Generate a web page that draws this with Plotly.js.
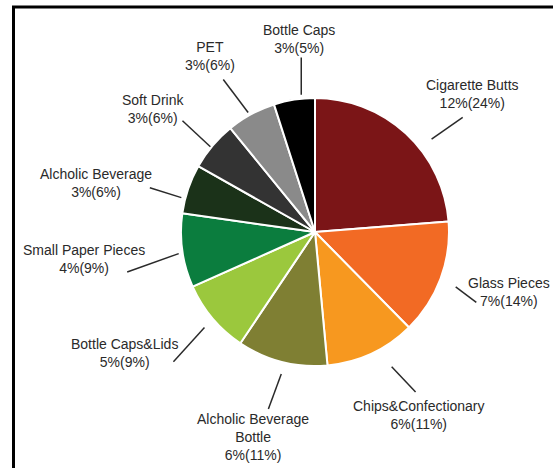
<!DOCTYPE html>
<html><head><meta charset="utf-8">
<script src="https://cdn.plot.ly/plotly-3.0.1.min.js"></script>
<style>html,body{margin:0;padding:0;background:#fff}#chart{width:553px;height:468px}</style>
</head><body><div id="chart"></div>
<script>
// ---- data ----
const categories = ['Cigarette Butts', 'Glass Pieces', 'Chips&Confectionary', 'Alcholic Beverage<br>Bottle',
  'Bottle Caps&Lids', 'Small Paper Pieces', 'Alcholic Beverage', 'Soft Drink', 'PET', 'Bottle Caps'];
const firstShare = [12, 7, 6, 6, 5, 4, 3, 3, 3, 3];       // first percentage in label
const secondShare = [24, 14, 11, 11, 9, 9, 6, 6, 6, 5];   // percentage in brackets (slice size)
const sliceColors = ['#7b1517', '#f26a24', '#f7981f', '#7f7f33', '#9bc83d', '#0b7d3e', '#1b3219', '#333333', '#8a8a8a', '#000000'];

// ---- layout helpers (positions only) ----
const W = 553, H = 468, CX = 315, CY = 232, R = 134;
// leader line angle nudges (deg), radii (px) and text offset from outer end (px)
const leaderCfg = [
  {aIn: 8.7, rIn: 149, aOut: 9.4, rOut: 187, dx: 10, dy: -23},
  {aIn: 0.8, rIn: 151, aOut: 3.1, rOut: 176, dx: 33, dy: -10},
  {aIn: -4.7, rIn: 155, aOut: -7.2, rOut: 189, dx: 3, dy: 23},
  {aIn: -0.9, rIn: 146, aOut: 0.5, rOut: 183, dx: -15, dy: 28},
  {aIn: -0.7, rIn: 146, aOut: -2.4, rOut: 192, dx: -49, dy: -9},
  {aIn: -1.0, rIn: 138, aOut: -4.0, rOut: 192, dx: -43, dy: -13},
  {aIn: -4.3, rIn: 138, aOut: -3.7, rOut: 171, dx: -54, dy: -5},
  {aIn: -0.9, rIn: 135, aOut: -0.1, rOut: 173, dx: -29, dy: -12},
  {aIn: -0.7, rIn: 137, aOut: -2.5, rOut: 178, dx: -13, dy: -23},
  {aIn: 3.2, rIn: 138, aOut: 4.4, rOut: 175, dx: -2, dy: -19}
];

const total = secondShare.reduce((a, b) => a + b, 0);
let cum = 0;
const midAngles = secondShare.map(v => { const m = (cum + v / 2) / total * 360; cum += v; return m; });
function pt(angDeg, r) {
  const a = angDeg * Math.PI / 180;
  return [CX + r * Math.sin(a), CY - r * Math.cos(a)];
}
const px2x = p => p / W, py2y = p => 1 - p / H;

const shapes = [];
const annotations = [];
midAngles.forEach((m, i) => {
  const c = leaderCfg[i];
  const p0 = pt(m + c.aIn, c.rIn), p1 = pt(m + c.aOut, c.rOut);
  shapes.push({type: 'line', xref: 'paper', yref: 'paper',
    x0: px2x(p0[0]), y0: py2y(p0[1]), x1: px2x(p1[0]), y1: py2y(p1[1]),
    line: {color: '#2a2a2a', width: 1.5}});
  annotations.push({xref: 'paper', yref: 'paper', x: px2x(p1[0] + c.dx), y: py2y(p1[1] + c.dy),
    xanchor: 'center', yanchor: 'middle', showarrow: false, align: 'center',
    text: categories[i] + '<br>' + firstShare[i] + '%(' + secondShare[i] + '%)',
    font: {family: 'Arial, "Liberation Sans", sans-serif', size: 14, color: '#2a2a2a'}});
});
// frame
shapes.push({type: 'rect', xref: 'paper', yref: 'paper', x0: 13.5 / W, x1: 1.05, y0: -0.05, y1: 1 - 7 / H,
  line: {color: '#000', width: 3}, fillcolor: 'rgba(0,0,0,0)', layer: 'below'});

const trace = {
  type: 'pie', labels: categories, values: secondShare, sort: false, direction: 'clockwise', rotation: 0,
  textinfo: 'none', hoverinfo: 'none', showlegend: false,
  marker: {colors: sliceColors, line: {color: '#ffffff', width: 2}},
  domain: {x: [(CX - R) / W, (CX + R) / W], y: [1 - (CY + R) / H, 1 - (CY - R) / H]}
};

Plotly.newPlot('chart', [trace], {
  width: W, height: H, margin: {l: 0, r: 0, t: 0, b: 0},
  paper_bgcolor: '#ffffff', plot_bgcolor: '#ffffff',
  shapes: shapes, annotations: annotations, showlegend: false
}, {displayModeBar: false, staticPlot: true});
</script></body></html>
